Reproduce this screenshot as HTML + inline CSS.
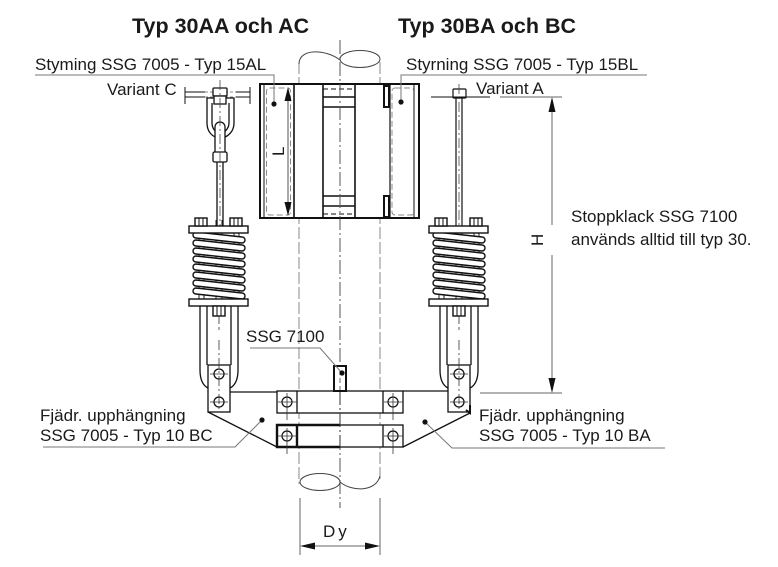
<!DOCTYPE html>
<html><head><meta charset="utf-8"><style>
html,body{margin:0;padding:0;background:#fff;}
svg{display:block;}
text{font-family:"Liberation Sans",sans-serif;fill:#1a1a1a;}
</style></head><body>
<svg width="778" height="567" viewBox="0 0 778 567" xmlns="http://www.w3.org/2000/svg">
<defs>
<g id="spring">
  <!-- tie rods -->
  <g stroke="#222" stroke-width="1" fill="none">
    <line x1="199" y1="227" x2="199" y2="300"/><line x1="204" y1="227" x2="204" y2="300"/>
    <line x1="234" y1="227" x2="234" y2="300"/><line x1="239" y1="227" x2="239" y2="300"/>
    <line x1="216" y1="220" x2="216" y2="306"/><line x1="222" y1="220" x2="222" y2="306"/>
  </g>
  <g fill="#fff" stroke="#111" stroke-width="1.4">
    <path d="M196,232 L242,237 A3,3 0 0 1 242,243 L196,238 A3,3 0 0 1 196,232 Z"/>
    <path d="M196,240 L242,245 A3,3 0 0 1 242,251 L196,246 A3,3 0 0 1 196,240 Z"/>
    <path d="M196,248 L242,253 A3,3 0 0 1 242,259 L196,254 A3,3 0 0 1 196,248 Z"/>
    <path d="M196,256 L242,261 A3,3 0 0 1 242,267 L196,262 A3,3 0 0 1 196,256 Z"/>
    <path d="M196,264 L242,269 A3,3 0 0 1 242,275 L196,270 A3,3 0 0 1 196,264 Z"/>
    <path d="M196,272 L242,277 A3,3 0 0 1 242,283 L196,278 A3,3 0 0 1 196,272 Z"/>
    <path d="M196,280 L242,285 A3,3 0 0 1 242,291 L196,286 A3,3 0 0 1 196,280 Z"/>
    <path d="M196,288 L242,293 A3,3 0 0 1 242,299 L196,294 A3,3 0 0 1 196,288 Z"/>
    <!-- plates -->
    <rect x="189" y="226" width="59" height="7"/>
    <rect x="189" y="299" width="59" height="7"/>
    <!-- nuts top -->
    <rect x="195" y="218" width="12" height="8"/>
    <rect x="230" y="218" width="12" height="8"/>
    <!-- nut below -->
    <rect x="213" y="306" width="12" height="10"/>
  </g>
  <g stroke="#111" stroke-width="1" fill="none">
    <line x1="199" y1="218" x2="199" y2="226"/><line x1="203" y1="218" x2="203" y2="226"/>
    <line x1="234" y1="218" x2="234" y2="226"/><line x1="238" y1="218" x2="238" y2="226"/>
    <line x1="217" y1="306" x2="217" y2="316"/><line x1="221" y1="306" x2="221" y2="316"/>
  </g>
  <!-- strap -->
  <g stroke="#111" stroke-width="1.3" fill="none">
    <path d="M200,306 V370 Q200,384 208,388"/>
    <path d="M238,306 V370 Q238,384 230,388"/>
    <line x1="207" y1="306" x2="207" y2="365"/>
    <line x1="231" y1="306" x2="231" y2="365"/>
    <rect x="208" y="365" width="22" height="47" fill="#fff"/>
    <circle cx="219" cy="374" r="5"/>
    <circle cx="219" cy="402" r="5"/>
  </g>
  <g stroke="#333" stroke-width="0.8" fill="none">
    <line x1="210" y1="374" x2="228" y2="374"/><line x1="210" y1="402" x2="228" y2="402"/>
    <line x1="219" y1="316" x2="219" y2="330" stroke-dasharray="8,3"/>
    <line x1="219" y1="340" x2="219" y2="412" stroke-dasharray="10,3,2,3"/>
  </g>
</g>
</defs>

<!-- titles -->
<text x="132" y="33" font-size="21.5" font-weight="bold">Typ 30AA och AC</text>
<text x="398" y="33" font-size="21.5" font-weight="bold">Typ 30BA och BC</text>

<!-- pipe lines -->
<g stroke="#888" stroke-width="1" fill="none">
  <line x1="299" y1="62" x2="299" y2="484" stroke-dasharray="12,3"/>
  <line x1="380" y1="62" x2="380" y2="480" stroke-dasharray="12,3"/>
</g>
<line x1="340" y1="40" x2="340" y2="508" stroke="#555" stroke-width="1" stroke-dasharray="14,3,2,3"/>
<!-- pipe breaks -->
<g stroke="#444" stroke-width="1" fill="none">
  <path d="M299,64 C299,48 326,49 340,60"/>
  <ellipse cx="360" cy="59" rx="20" ry="8.5"/>
  <ellipse cx="320" cy="482" rx="20" ry="8.5"/>
  <path d="M340,482 C352,492 376,492 380,476"/>
</g>

<!-- clamp -->
<g stroke="#111" fill="none">
  <rect x="260" y="84" width="159" height="134" fill="#fff" stroke-width="2"/>
  <line x1="264" y1="84" x2="264" y2="218" stroke-width="1"/>
  <line x1="294" y1="84" x2="294" y2="218" stroke-width="1.6"/>
  <rect x="266.5" y="88" width="24" height="127" rx="3" stroke="#888" stroke-dasharray="6,3" stroke-width="1"/>
  <line x1="288" y1="98" x2="288" y2="205" stroke="#555" stroke-width="1"/>
  <line x1="323" y1="84" x2="323" y2="218" stroke-width="1.6"/>
  <line x1="355" y1="84" x2="355" y2="218" stroke-width="1.6"/>
  <line x1="323" y1="97" x2="355" y2="97" stroke-width="1.5"/>
  <line x1="323" y1="107" x2="355" y2="107" stroke-width="1.5"/>
  <line x1="323" y1="89" x2="355" y2="89" stroke-width="1" stroke-dasharray="5,3"/>
  <line x1="323" y1="196" x2="355" y2="196" stroke-width="1.5"/>
  <line x1="323" y1="206" x2="355" y2="206" stroke-width="1.5"/>
  <line x1="323" y1="214" x2="355" y2="214" stroke-width="1" stroke-dasharray="5,3"/>
  <line x1="390" y1="84" x2="390" y2="218" stroke-width="1.2"/>
  <rect x="384" y="86" width="5" height="21" stroke-width="2"/>
  <rect x="384" y="196" width="5" height="21" stroke-width="2"/>
  <rect x="392" y="88" width="22" height="127" rx="3" stroke="#888" stroke-dasharray="6,3" stroke-width="1"/>
  <line x1="414" y1="84" x2="414" y2="218" stroke-width="1"/>
</g>
<line x1="340" y1="84" x2="340" y2="218" stroke="#555" stroke-width="1" stroke-dasharray="14,3,2,3"/>
<polygon points="288,87 284.5,101 291.5,101" fill="#111"/>
<polygon points="288,216 284.5,202 291.5,202" fill="#111"/>
<text x="0" y="0" font-size="17" transform="translate(284,156) rotate(-90)">L</text>

<!-- leaders top -->
<g stroke="#777" stroke-width="1" fill="none">
  <path d="M35,75 H274 V104"/>
  <path d="M647,75 H401 V102"/>
</g>
<circle cx="274" cy="104" r="2.6" fill="#111"/>
<circle cx="401" cy="102" r="2.6" fill="#111"/>
<text x="35" y="70" font-size="17">Styming SSG 7005 - Typ 15AL</text>
<text x="406" y="70" font-size="17">Styrning SSG 7005 - Typ 15BL</text>
<text x="107" y="95" font-size="17">Variant C</text>
<text x="476" y="94" font-size="17">Variant A</text>

<!-- Left top hardware (Variant C) -->
<g stroke="#111" stroke-width="1" fill="none">
  <line x1="185" y1="87" x2="185" y2="104"/>
  <line x1="250" y1="87" x2="250" y2="104"/>
  <line x1="185" y1="92" x2="205" y2="92"/><line x1="236" y1="92" x2="250" y2="92"/>
  <line x1="185" y1="97" x2="205" y2="97"/><line x1="236" y1="97" x2="250" y2="97"/>
  <line x1="205" y1="92" x2="236" y2="92" stroke="#888" stroke-dasharray="3,2"/>
  <line x1="205" y1="97" x2="236" y2="97" stroke="#888" stroke-dasharray="3,2"/>
</g>
<g stroke="#111" stroke-width="1.3" fill="#fff">
  <path d="M207,98 V123 C207,132 213,138 220,138 C227,138 234,132 234,123 V98 Z"/>
  <path d="M212,103 V123 C212,129 216,133 220,133 C224,133 229,129 229,123 V103"/>
  <rect x="213" y="88" width="14" height="8" rx="1"/>
  <rect x="214" y="96" width="12" height="8"/>
  <rect x="215" y="122" width="10" height="40" rx="5"/>
  <rect x="213" y="152" width="14" height="10" rx="1.5"/>
  <line x1="217" y1="162" x2="217" y2="227"/>
  <line x1="223" y1="162" x2="223" y2="227"/>
</g>
<line x1="220" y1="80" x2="220" y2="227" stroke="#444" stroke-width="0.8" stroke-dasharray="10,3,2,3"/>

<!-- Right top hardware (Variant A) -->
<g stroke="#111" stroke-width="1.2" fill="#fff">
  <line x1="456" y1="98" x2="456" y2="227"/>
  <line x1="462" y1="98" x2="462" y2="227"/>
  <rect x="453" y="89" width="13" height="9" rx="1"/>
</g>
<line x1="459" y1="84" x2="459" y2="227" stroke="#444" stroke-width="0.8" stroke-dasharray="10,3,2,3"/>
<g stroke="#111" stroke-width="1" fill="none">
  <line x1="431" y1="97" x2="490" y2="97"/>
  <line x1="500" y1="97" x2="562" y2="97" stroke="#666"/>
  <line x1="480" y1="393" x2="562" y2="393" stroke="#666"/>
  <line x1="552" y1="108" x2="552" y2="225" stroke="#666"/>
  <line x1="552" y1="255" x2="552" y2="382" stroke="#666"/>
</g>
<polygon points="552,97 548.5,112 555.5,112" fill="#111"/>
<polygon points="552,393 548.5,378 555.5,378" fill="#111"/>
<text x="0" y="0" font-size="17" transform="translate(543,246) rotate(-90)">H</text>

<!-- springs -->
<use href="#spring"/>
<use href="#spring" transform="translate(240,0)"/>

<!-- bridge / brackets -->
<g stroke="#111" stroke-width="1.3" fill="none">
  <line x1="230" y1="392" x2="277" y2="392"/>
  <line x1="403" y1="391" x2="448" y2="391"/>
  <line x1="208" y1="412" x2="277" y2="447"/>
  <line x1="470" y1="413" x2="403" y2="447"/>
  <rect x="277" y="391" width="126" height="22" fill="#fff"/>
  <line x1="297" y1="391" x2="297" y2="413"/>
  <line x1="383" y1="391" x2="383" y2="413"/>
  <rect x="277" y="425" width="126" height="22" fill="#fff"/>
  <line x1="383" y1="425" x2="383" y2="447"/>
</g>
<g stroke="#111" stroke-width="2.4" fill="none">
  <path d="M340,425 H277 V447 H340"/>
  <line x1="297" y1="425" x2="297" y2="447"/>
  <path d="M466,410 L470,413 L470,405" stroke-width="2"/>
</g>
<g stroke="#111" stroke-width="1.2" fill="none">
  <circle cx="287" cy="402" r="5"/><circle cx="393" cy="402" r="5"/>
  <circle cx="287" cy="436" r="5"/><circle cx="393" cy="436" r="5"/>
</g>
<g stroke="#333" stroke-width="0.8" fill="none">
  <line x1="278" y1="402" x2="297" y2="402"/><line x1="287" y1="393" x2="287" y2="420"/>
  <line x1="384" y1="402" x2="403" y2="402"/><line x1="393" y1="393" x2="393" y2="420"/>
  <line x1="278" y1="436" x2="297" y2="436"/><line x1="287" y1="428" x2="287" y2="454"/>
  <line x1="384" y1="436" x2="403" y2="436"/><line x1="393" y1="428" x2="393" y2="454"/>
</g>
<line x1="340" y1="391" x2="340" y2="447" stroke="#333" stroke-width="1" stroke-dasharray="14,3,2,3"/>

<!-- SSG 7100 stop -->
<rect x="334" y="366" width="12" height="25" fill="#fff" stroke="#111" stroke-width="2"/>
<line x1="340" y1="370" x2="340" y2="390" stroke="#444" stroke-width="0.8" stroke-dasharray="5,3"/>
<path d="M250,348 H320 L342,373" stroke="#777" stroke-width="1" fill="none"/>
<circle cx="342" cy="373" r="2.6" fill="#111"/>
<text x="246" y="342" font-size="17">SSG 7100</text>

<!-- bottom leaders -->
<g stroke="#777" stroke-width="1" fill="none">
  <path d="M43,447 H235 L262,420"/>
  <path d="M665,448 H452 L425,422"/>
</g>
<circle cx="262" cy="420" r="2.6" fill="#111"/>
<circle cx="425" cy="422" r="2.6" fill="#111"/>
<text x="40" y="421" font-size="17">Fjädr. upphängning</text>
<text x="40" y="441" font-size="17">SSG 7005 - Typ 10 BC</text>
<text x="479" y="421" font-size="17">Fjädr. upphängning</text>
<text x="479" y="441" font-size="17">SSG 7005 - Typ 10 BA</text>

<text x="571" y="222" font-size="17">Stoppklack SSG 7100</text>
<text x="571" y="245" font-size="17">används alltid till typ 30.</text>

<!-- Dy dimension -->
<g stroke="#666" stroke-width="1" fill="none">
  <line x1="300" y1="498" x2="300" y2="555"/>
  <line x1="380" y1="498" x2="380" y2="555"/>
  <line x1="312" y1="546" x2="368" y2="546"/>
</g>
<polygon points="300,546 315,542.5 315,549.5" fill="#111"/>
<polygon points="380,546 365,542.5 365,549.5" fill="#111"/>
<text x="323" y="537" font-size="17" letter-spacing="3">Dy</text>
</svg>
</body></html>
